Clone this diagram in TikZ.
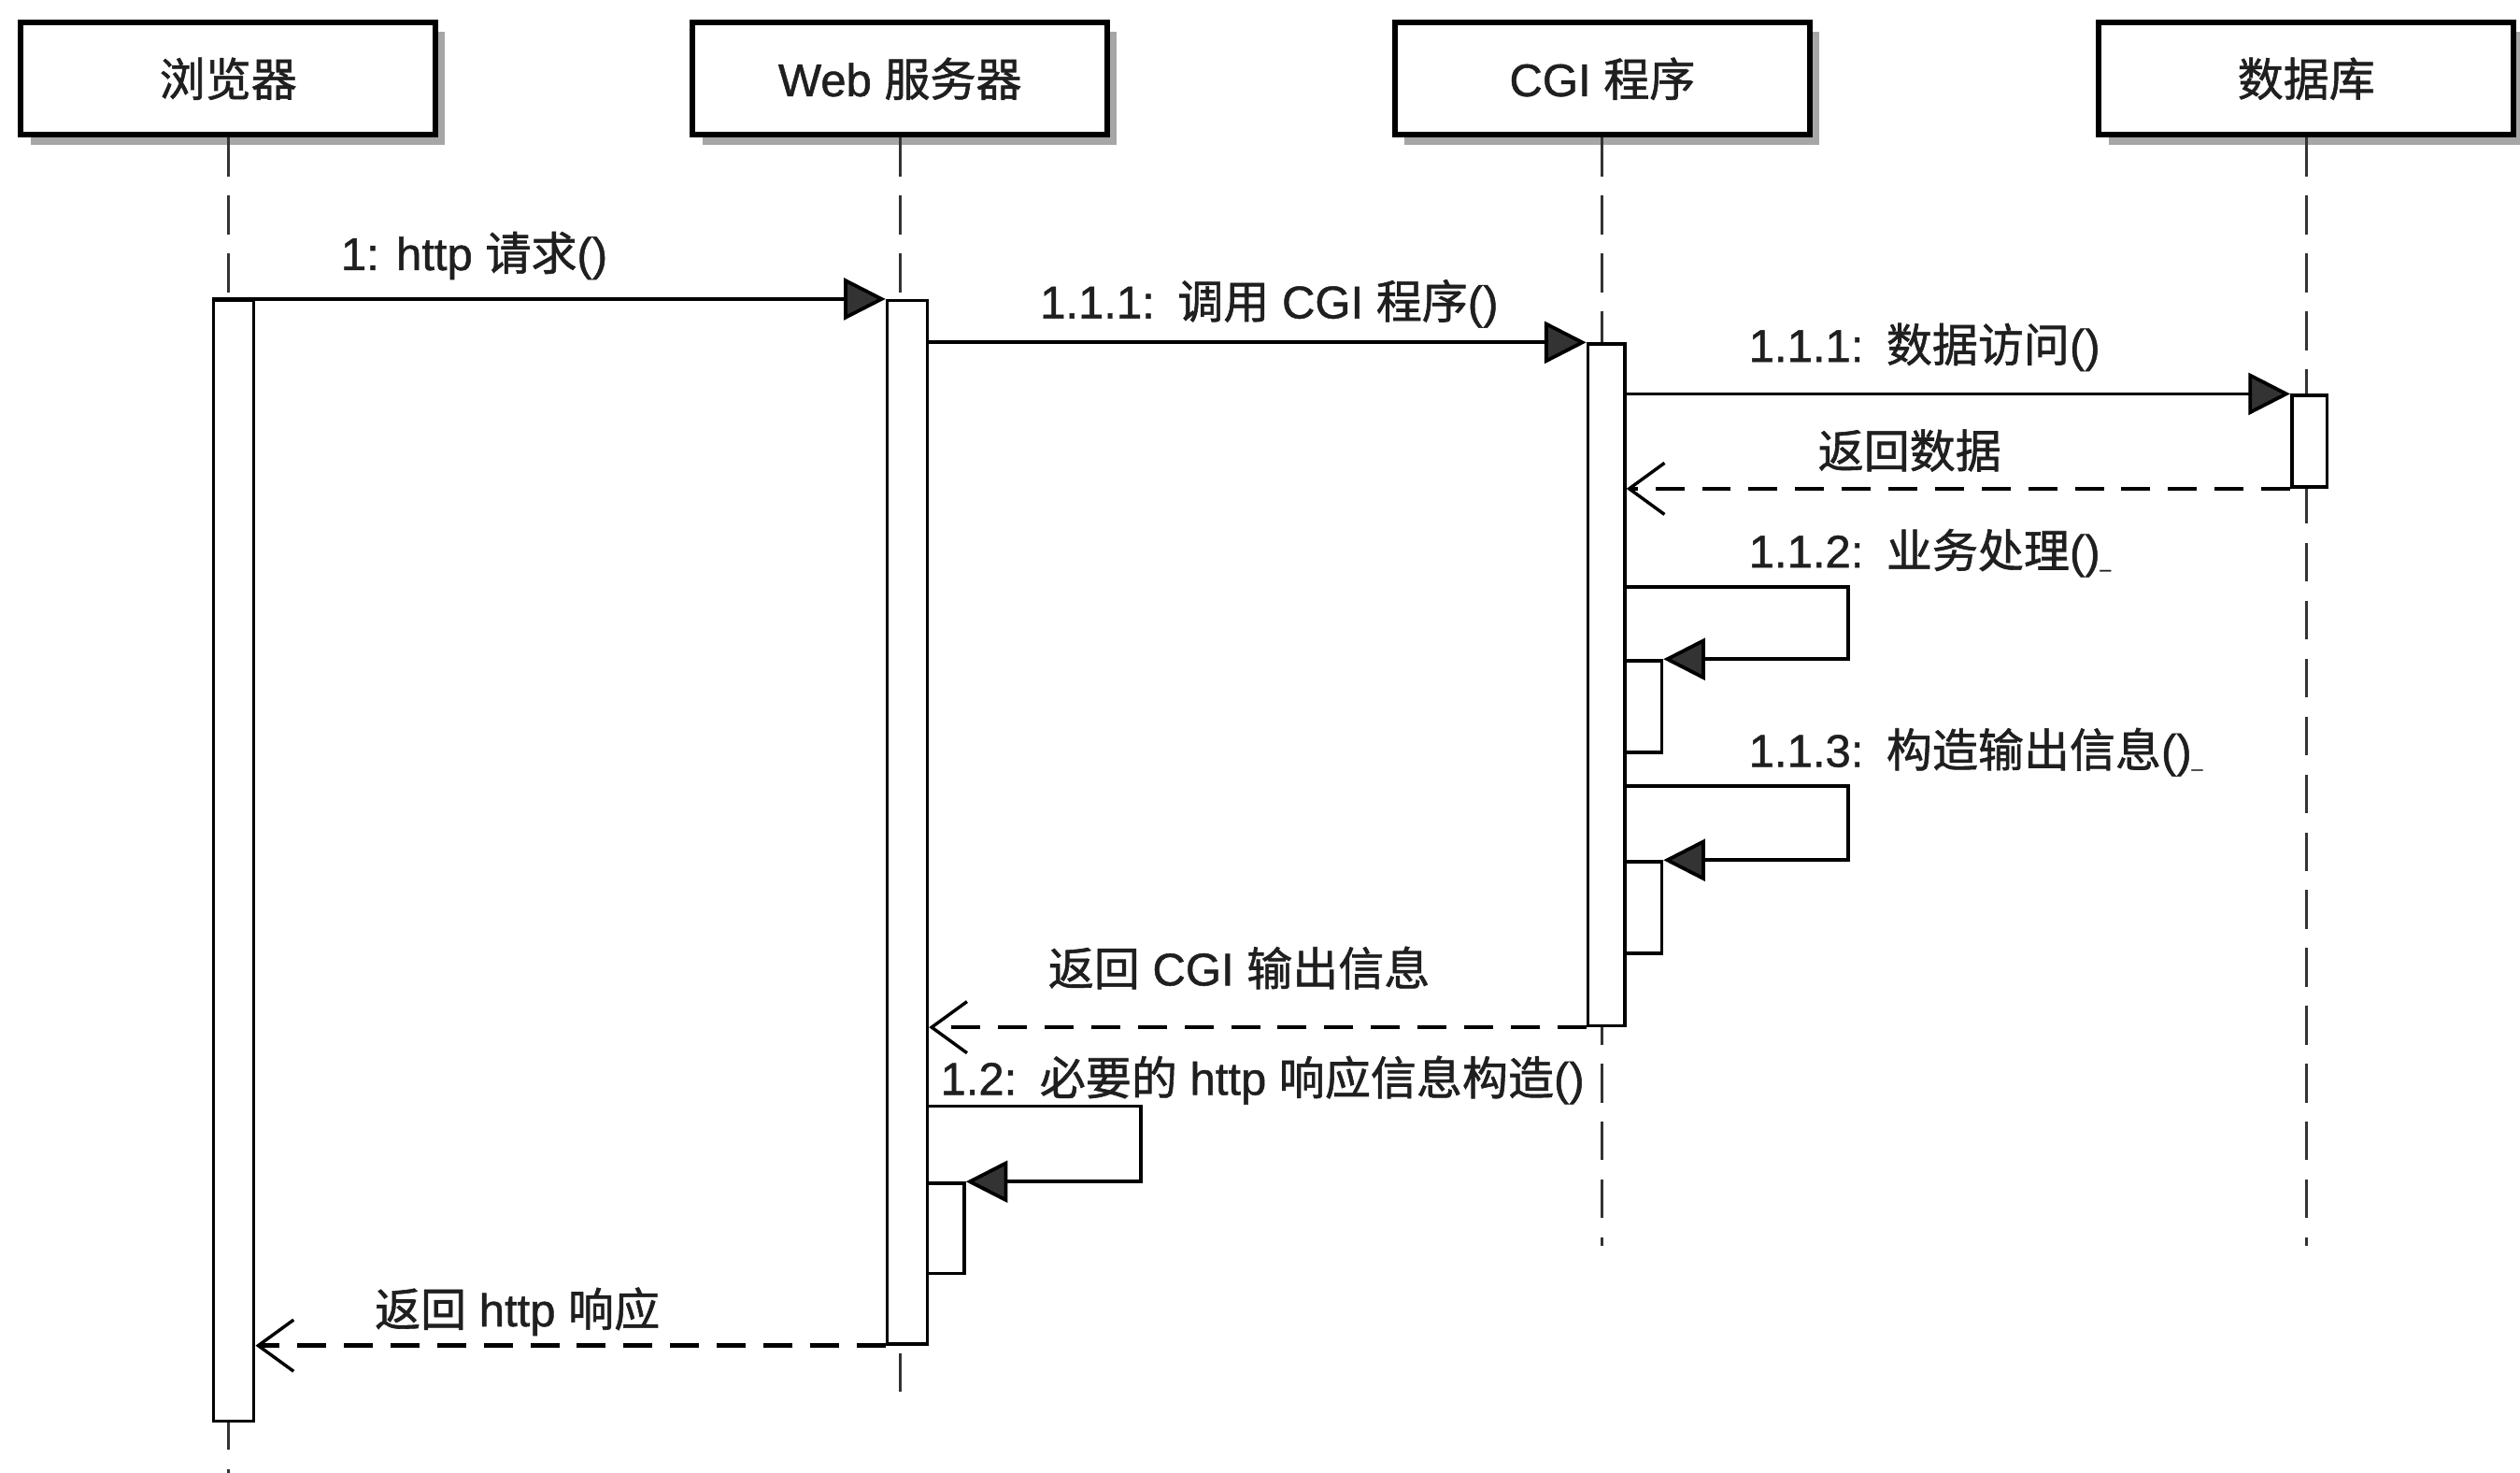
\documentclass[tikz,border=0pt]{standalone}
\usepackage{fontspec}
\setmainfont[FakeBold=1]{Liberation Sans}
\newfontfamily\cjk[FakeBold=1.2]{Noto Sans CJK SC}
\newcommand\zh[1]{{\cjk #1}}
\newcommand\smallus{{\fontsize{12}{12}\selectfont\_}}
\usetikzlibrary{arrows.meta,shadows,calc}
\tikzset{
  head/.style={draw, line width=3.5pt, fill=white, minimum width=258pt, minimum height=70pt,
    inner sep=0pt, drop shadow={shadow xshift=6pt, shadow yshift=-6pt, fill=black!35, opacity=1},
    font=\fontsize{28.5}{30}\selectfont, text=black!88},
  lifeline/.style={line width=1.8pt, dash pattern=on 24pt off 12pt, draw=black!80},
  actbar/.style={draw, line width=2pt, fill=white, inner sep=0pt, anchor=north west},
  msg/.style={line width=2.2pt, -{Triangle[length=26pt,width=26pt,fill=black!80]}},
  ret/.style={line width=2.6pt, dash pattern=on 18pt off 11pt,
    -{Straight Barb[length=22pt,width=32pt,line width=2pt]}},
  lbl/.style={anchor=base west, inner sep=0pt, font=\fontsize{28.5}{30}\selectfont, text=black!88},
}
\begin{document}
\begin{tikzpicture}[x=1pt,y=-1pt]
\useasboundingbox (0,0) rectangle (1568,916);
% heads
\node[head] (hB) at (142,49) {\zh{浏览器}};
\node[head] (hW) at (560,49) {Web \zh{服务器}};
\node[head] (hC) at (997,49) {CGI \zh{程序}};
\node[head] (hD) at (1435,49) {\zh{数据库}};
% lifeline ends
\coordinate (eB) at (142,916);
\coordinate (eW) at (560,870);
\coordinate (eC) at (997,775);
\coordinate (eD) at (1435,775);
\draw[lifeline] (hB.south) -- (eB);
\draw[lifeline] (hW.south) -- (eW);
\draw[lifeline] (hC.south) -- (eC);
\draw[lifeline] (hD.south) -- (eD);
% activation bars
\node[actbar, minimum width=25pt, minimum height=697pt] (barB) at (132,186) {};
\node[actbar, minimum width=25pt, minimum height=649pt] (barW) at (551,186) {};
\node[actbar, minimum width=23pt, minimum height=424pt] (barC) at (987,213) {};
\node[actbar, minimum width=22pt, minimum height=57pt] (barD) at (1425,245) {};
\node[actbar, minimum width=23pt, minimum height=57pt] (barC1) at (1010,410) {};
\node[actbar, minimum width=23pt, minimum height=57pt] (barC2) at (1010,535) {};
\node[actbar, minimum width=23pt, minimum height=56pt] (barW1) at (576,735) {};
% self-call corners
\coordinate (k1a) at (1150,365);
\coordinate (k1b) at (1150,410);
\coordinate (k2a) at (1150,489);
\coordinate (k2b) at (1150,535);
\coordinate (k3a) at (710,688);
\coordinate (k3b) at (710,735);
% messages
\draw[msg] (barB.north west) -- (barW.north west);
\draw[msg] (barW.east |- barC.north) -- (barC.north west);
\draw[msg] (barC.east |- barD.north) -- (barD.north west);
\draw[ret] (barD.south west) -- (barC.east |- barD.south);
\draw[msg] (barC.east |- k1a) -- (k1a) -- (k1b) -- (barC1.north east);
\draw[msg] (barC.east |- k2a) -- (k2a) -- (k2b) -- (barC2.north east);
\draw[ret] (barC.south west) -- (barW.east |- barC.south);
\draw[msg] (barW.east |- k3a) -- (k3a) -- (k3b) -- (barW1.north east);
\draw[ret] (barW.south west) -- (barB.east |- barW.south);
% labels
\node[lbl] (t1) at (212,168) {1: http \zh{请求}()};
\node[lbl] (t2) at (647,198) {1.1.1:\hspace{0.5em}\zh{调用} CGI \zh{程序}()};
\node[lbl] (t3) at (1088,225) {1.1.1:\hspace{0.5em}\zh{数据访问}()};
\node[lbl] (t4) at (1131,291) {\zh{返回数据}};
\node[lbl] (t5) at (1088,353) {1.1.2:\hspace{0.5em}\zh{业务处理}()\smallus};
\node[lbl] (t6) at (1088,477) {1.1.3:\hspace{0.5em}\zh{构造输出信息}()\smallus};
\node[lbl] (t7) at (652,613) {\zh{返回} CGI \zh{输出信息}};
\node[lbl] (t8) at (585,681) {1.2:\hspace{0.5em}\zh{必要的} http \zh{响应信息构造}()};
\node[lbl] (t9) at (233,825) {\zh{返回} http \zh{响应}};
\end{tikzpicture}
\end{document}
